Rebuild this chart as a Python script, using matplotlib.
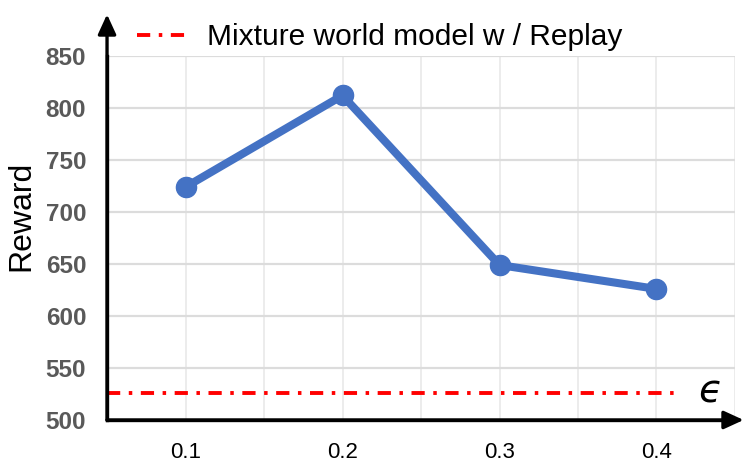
import numpy as np
import matplotlib.pyplot as plt

plt.rcParams['font.family'] = ['Liberation Sans', 'DejaVu Sans']

# data
eps = [0.1, 0.2, 0.3, 0.4]
reward = [724, 812, 649, 626]
baseline_x = [0.05, 0.415]
baseline_y = [526, 526]
y_ticks = [500, 550, 600, 650, 700, 750, 800, 850]
x_ticks = [0.1, 0.2, 0.3, 0.4]
x_minor = [0.05, 0.15, 0.25, 0.35, 0.45]

fig = plt.figure(figsize=(7.49, 4.72), dpi=100)
ax = fig.add_axes([0.1429, 0.1102, 0.9813 - 0.1429, 0.8814 - 0.1102])

ax.set_xlim(0.05, 0.45)
ax.set_ylim(500, 850)

ax.set_xticks(x_ticks)
ax.set_xticks(x_minor, minor=True)
ax.set_yticks(y_ticks)
ax.set_xticklabels(['0.1', '0.2', '0.3', '0.4'], fontsize=16, color='black')
ax.set_yticklabels([str(v) for v in y_ticks], fontsize=17.5, fontweight='bold', color='#595959')
ax.tick_params(axis='both', which='both', length=0)
ax.tick_params(axis='x', pad=16)
ax.tick_params(axis='y', pad=15)

ax.grid(axis='y', color='#dcdcdc', linewidth=1.6)
ax.grid(axis='x', which='both', color='#ececec', linewidth=1.4)
ax.set_axisbelow(True)

for s in ['top', 'right']:
    ax.spines[s].set_visible(False)
for s in ['left', 'bottom']:
    ax.spines[s].set_linewidth(2.4)
    ax.spines[s].set_color('black')

# arrows on the axes
ax.annotate('', xy=(0.4555, 500), xytext=(0.05, 500),
            arrowprops=dict(arrowstyle='-|>,head_length=1.2,head_width=0.55',
                            color='black', lw=2.4, shrinkA=0, shrinkB=0),
            annotation_clip=False)
ax.annotate('', xy=(0.05, 890), xytext=(0.05, 500),
            arrowprops=dict(arrowstyle='-|>,head_length=1.2,head_width=0.55',
                            color='black', lw=2.4, shrinkA=0, shrinkB=0),
            annotation_clip=False)

ax.plot(baseline_x, baseline_y, color='#ff0000', linewidth=2.8,
        dashes=(3.4, 2.2, 0.9, 2.2), label='Mixture world model w / Replay')
ax.plot(eps, reward, color='#4472c4', linewidth=5.8, marker='o', markersize=14.5,
        solid_joinstyle='round', zorder=3)

ax.text(0.4345, 527, '\u03f5', fontsize=28, fontstyle='italic',
        family='DejaVu Sans', ha='center', va='center')
ax.set_ylabel('Reward', fontsize=23, va='center')
ax.yaxis.set_label_coords(-0.137, 0.56)

leg = ax.legend(loc='center left', bbox_to_anchor=(0.028, 1.052), frameon=False,
                fontsize=21.5, handlelength=1.7, handletextpad=0.67, borderaxespad=0)

fig.savefig('out.png', dpi=100)
